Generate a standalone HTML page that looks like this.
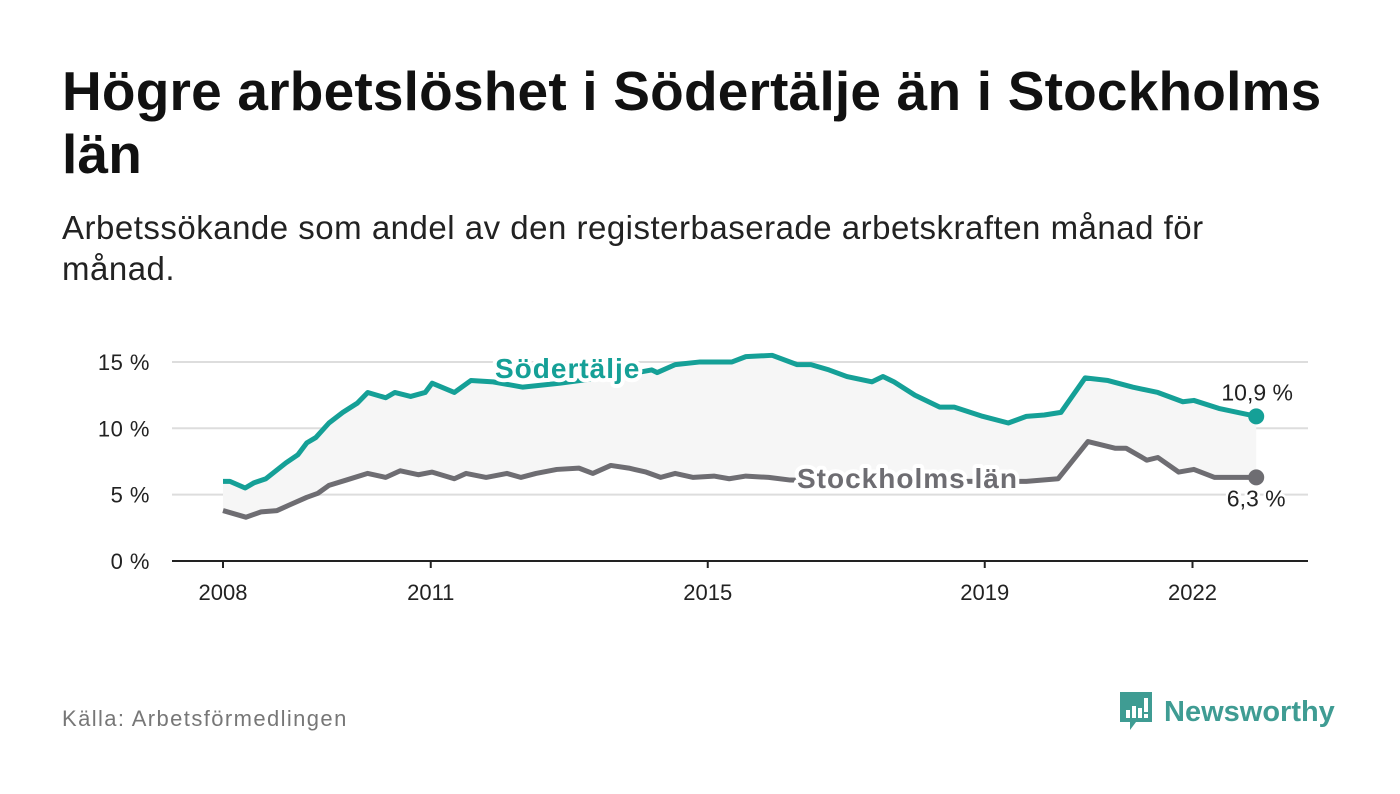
<!DOCTYPE html>
<html><head><meta charset="utf-8"><style>
body{margin:0;background:#fff;width:1400px;height:794px;overflow:hidden;font-family:"Liberation Sans",sans-serif;}
h1{position:absolute;left:62px;top:60px;margin:0;font-size:55px;line-height:63px;font-weight:bold;color:#111;width:1300px;letter-spacing:0.2px;}
.sub{position:absolute;left:62px;top:207px;font-size:33px;line-height:41px;color:#222;width:1240px;letter-spacing:0.5px;}
.src{position:absolute;left:62px;top:706px;font-size:22px;color:#777;letter-spacing:1.4px;}
.logo{position:absolute;left:1118px;top:690px;display:flex;align-items:center;}
</style></head><body>
<h1>Högre arbetslöshet i Södertälje än i Stockholms län</h1>
<div class="sub">Arbetssökande som andel av den registerbaserade arbetskraften månad för månad.</div>
<svg id="chart" width="1400" height="794" style="position:absolute;left:0;top:0"></svg>
<div class="src">Källa: Arbetsförmedlingen</div>
<div class="logo">
<svg width="36" height="44" viewBox="0 0 36 44"><path d="M2 2h32v30H18l-6 8v-8H2z" fill="#3f9c93"/><rect x="8" y="20" width="4" height="8" fill="#fff"/><rect x="14" y="16" width="4" height="12" fill="#fff"/><rect x="20" y="18" width="4" height="10" fill="#fff"/><rect x="26" y="8" width="4" height="14" fill="#fff"/><rect x="26" y="24" width="4" height="4" fill="#fff"/></svg>
<span style="font-size:29px;font-weight:bold;color:#3f9c93;margin-left:10px">Newsworthy</span></div>
<script>
const sYears=[2008.0,2008.10,2008.32,2008.45,2008.62,2008.91,2009.08,2009.21,2009.34,2009.53,2009.73,2009.94,2010.09,2010.35,2010.48,2010.71,2010.92,2011.02,2011.34,2011.58,2011.90,2012.33,2012.87,2013.44,2013.88,2014.19,2014.27,2014.53,2014.89,2015.15,2015.35,2015.55,2015.93,2016.29,2016.49,2016.75,2017.01,2017.37,2017.53,2017.69,2017.99,2018.35,2018.56,2018.97,2019.34,2019.60,2019.86,2020.10,2020.45,2020.78,2021.14,2021.50,2021.86,2022.02,2022.38,2022.92];
const sVals=[6.0,6.0,5.5,5.9,6.2,7.4,8.0,8.9,9.3,10.4,11.2,11.9,12.7,12.3,12.7,12.4,12.7,13.4,12.7,13.6,13.5,13.1,13.4,13.8,14.1,14.4,14.2,14.8,15.0,15.0,15.0,15.4,15.5,14.8,14.8,14.4,13.9,13.5,13.9,13.5,12.5,11.6,11.6,10.9,10.4,10.9,11.0,11.2,13.8,13.6,13.1,12.7,12.0,12.1,11.5,10.9];
const kYears=[2008.0,2008.33,2008.55,2008.78,2008.95,2009.21,2009.37,2009.53,2009.78,2010.09,2010.35,2010.56,2010.82,2011.02,2011.34,2011.51,2011.80,2012.10,2012.30,2012.52,2012.82,2013.14,2013.34,2013.60,2013.86,2014.11,2014.32,2014.53,2014.79,2015.09,2015.31,2015.55,2015.88,2016.19,2017.05,2018.50,2019.60,2020.06,2020.49,2020.88,2021.04,2021.34,2021.50,2021.80,2022.02,2022.32,2022.92];
const kVals=[3.8,3.3,3.7,3.8,4.2,4.8,5.1,5.7,6.1,6.6,6.3,6.8,6.5,6.7,6.2,6.6,6.3,6.6,6.3,6.6,6.9,7.0,6.6,7.2,7.0,6.7,6.3,6.6,6.3,6.4,6.2,6.4,6.3,6.1,6.0,6.0,6.0,6.2,9.0,8.5,8.5,7.6,7.8,6.7,6.9,6.3,6.3];
const yTicks=[0,5,10,15];
const xTicks=[2008,2011,2015,2019,2022];
const sEndLabel="10,9 %", kEndLabel="6,3 %";
const X=t=>223+(t-2008)*69.25, Y=v=>561-v*13.27;
const svg=document.getElementById('chart'), NS='http://www.w3.org/2000/svg';
function mk(tag,attrs,parent){const e=document.createElementNS(NS,tag);for(const k in attrs)e.setAttribute(k,attrs[k]);(parent||svg).appendChild(e);return e;}
yTicks.forEach(v=>{
 const g=mk('line',{x1:172,x2:1308,y1:Y(v),y2:Y(v),stroke:v===0?'#222':'#ddd','stroke-width':2});
 
 
 const t=mk('text',{x:150,y:Y(v)+8,'text-anchor':'end','font-size':22,fill:'#222','letter-spacing':0.5});
 t.textContent=v+' %';
 
 
});
xTicks.forEach(y=>{
 const l=mk('line',{x1:X(y),x2:X(y),y1:561,y2:568,stroke:'#222','stroke-width':2});
 
 
 const t=mk('text',{x:X(y),y:600,'text-anchor':'middle','font-size':22,fill:'#222'});
 t.textContent=y;
 
 
});
const sp=sYears.map((t,i)=>X(t)+','+Y(sVals[i]));
const kp=kYears.map((t,i)=>X(t)+','+Y(kVals[i]));
const area=mk('polygon',{points:sp.concat(kp.slice().reverse()).join(' '),fill:'#f6f6f6'});


const kl=mk('polyline',{points:kp.join(' '),fill:'none',stroke:'#6e6d72','stroke-width':5,'stroke-linejoin':'round'});


const sl=mk('polyline',{points:sp.join(' '),fill:'none',stroke:'#15a097','stroke-width':5,'stroke-linejoin':'round'});


const sLast=sYears.length-1,kLast=kYears.length-1;
const sd=mk('circle',{cx:X(sYears[sLast]),cy:Y(sVals[sLast]),r:8,fill:'#15a097'});


const kd=mk('circle',{cx:X(kYears[kLast]),cy:Y(kVals[kLast]),r:8,fill:'#6e6d72'});


const st=mk('text',{x:X(sYears[sLast])+1,y:Y(sVals[sLast])-16,'text-anchor':'middle','font-size':23,fill:'#222'});
st.textContent=sEndLabel;


const kt=mk('text',{x:X(kYears[kLast]),y:Y(kVals[kLast])+29,'text-anchor':'middle','font-size':23,fill:'#222',stroke:'#fff','stroke-width':5,'paint-order':'stroke'});
kt.textContent=kEndLabel;


const sLab=mk('text',{x:495,y:378,'font-size':28,'font-weight':'bold',fill:'#15a097',stroke:'#fff','stroke-width':8,'paint-order':'stroke','stroke-linejoin':'round','letter-spacing':1});
sLab.textContent='Södertälje';


const kLab=mk('text',{x:797,y:488,'font-size':28,'font-weight':'bold',fill:'#6e6d72',stroke:'#fff','stroke-width':8,'paint-order':'stroke','stroke-linejoin':'round','letter-spacing':1});
kLab.textContent='Stockholms län';


</script>
</body></html>
